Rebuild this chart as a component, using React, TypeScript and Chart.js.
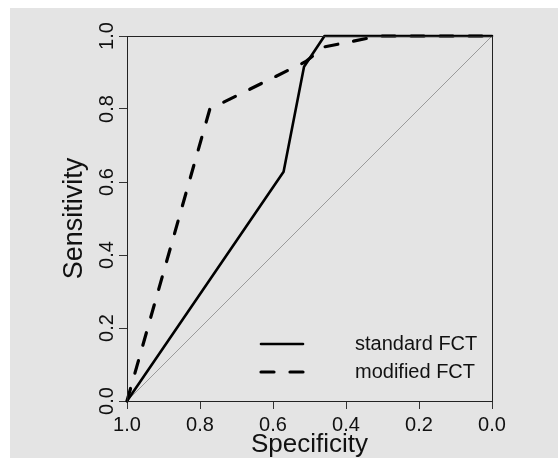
import { useEffect, useRef } from "react";
import { Chart, registerables } from "chart.js";

Chart.register(...registerables);

// ---- data ----
const tickValues = [0, 0.2, 0.4, 0.6, 0.8, 1.0];
const seriesLabels = ["standard FCT", "modified FCT"];
const standardSpec = [1.0, 0.571, 0.515, 0.459, 0.0];
const standardSens = [0.0, 0.628, 0.916, 1.0, 1.0];
const modifiedSpec = [1.0, 0.773, 0.51, 0.46, 0.31, 0.0];
const modifiedSens = [0.0, 0.8, 0.93, 0.97, 1.0, 1.0];
const chanceSpec = [1.0, 0.0];
const chanceSens = [0.0, 1.0];
const xTitle = "Specificity";
const yTitle = "Sensitivity";

const FONT = "'Liberation Sans', Arial, Helvetica, sans-serif";
const fmt = (v: number) => Number(v).toFixed(1);
const pts = (xs: number[], ys: number[]) => xs.map((x, i) => ({ x, y: ys[i] }));

const rocDecor = {
  id: "rocDecor",
  afterDatasetsDraw(chart: any) {
    const { ctx, chartArea: a, scales } = chart;
    ctx.save();
    // box
    ctx.strokeStyle = "#222";
    ctx.lineWidth = 1;
    const l = Math.round(a.left) + 0.5;
    const t = Math.round(a.top) + 0.5;
    const r = Math.round(a.right) + 0.5;
    const b = Math.round(a.bottom) + 0.5;
    ctx.strokeRect(l, t, r - l, b - t);

    // y tick labels, rotated like base R
    const ys = scales.y;
    ctx.fillStyle = "#111";
    ctx.font = `20px ${FONT}`;
    ctx.textAlign = "center";
    ctx.textBaseline = "alphabetic";
    ys.ticks.forEach((tk: any) => {
      const py = ys.getPixelForValue(tk.value);
      ctx.save();
      ctx.translate(a.left - 14, py);
      ctx.rotate(-Math.PI / 2);
      ctx.fillText(fmt(tk.value), 0, 0);
      ctx.restore();
    });

    // legend
    const entries = chart.data.datasets.filter((d: any) => d.label);
    entries.forEach((d: any, i: number) => {
      const yy = a.bottom - 57 + i * 28;
      ctx.save();
      ctx.strokeStyle = d.borderColor;
      ctx.lineWidth = d.borderWidth;
      ctx.lineCap = d.borderCapStyle || "butt";
      ctx.setLineDash(d.borderDash || []);
      ctx.beginPath();
      ctx.moveTo(a.left + 134, yy);
      ctx.lineTo(a.left + 176, yy);
      ctx.stroke();
      ctx.restore();
      ctx.fillStyle = "#111";
      ctx.font = `20px ${FONT}`;
      ctx.textAlign = "left";
      ctx.textBaseline = "middle";
      ctx.fillText(d.label, a.left + 228, yy);
    });
    ctx.restore();
  },
};

export default function App() {
  const ref = useRef<HTMLCanvasElement | null>(null);
  useEffect(() => {
    if (!ref.current) return;
    const setTicks = (s: any) => {
      s.ticks = tickValues.map((v) => ({ value: v }));
    };
    const chart = new Chart(ref.current, {
      type: "scatter",
      data: {
        datasets: [
          {
            label: seriesLabels[0],
            data: pts(standardSpec, standardSens),
            showLine: true,
            borderColor: "#000",
            backgroundColor: "#000",
            borderWidth: 2.6,
            borderJoinStyle: "round",
            borderCapStyle: "round",
            pointRadius: 0,
            tension: 0,
            clip: false,
            order: 1,
          },
          {
            label: seriesLabels[1],
            data: pts(modifiedSpec, modifiedSens),
            showLine: true,
            borderColor: "#000",
            backgroundColor: "#000",
            borderWidth: 3.2,
            borderDash: [13, 16],
            borderJoinStyle: "round",
            borderCapStyle: "round",
            pointRadius: 0,
            tension: 0,
            clip: false,
            order: 2,
          },
          {
            label: "",
            data: pts(chanceSpec, chanceSens),
            showLine: true,
            borderColor: "#9a9a9a",
            borderWidth: 1,
            pointRadius: 0,
            order: 3,
          },
        ],
      } as any,
      options: {
        animation: false,
        responsive: false,
        maintainAspectRatio: false,
        layout: { padding: { left: 0, top: 28, right: 66, bottom: 0 } },
        plugins: { legend: { display: false }, tooltip: { enabled: false } },
        scales: {
          x: {
            type: "linear",
            position: "bottom",
            min: 0,
            max: 1,
            reverse: true,
            afterBuildTicks: setTicks,
            afterFit: (s: any) => {
              s.height = 57;
            },
            grid: { drawOnChartArea: false, drawTicks: true, tickLength: 8, color: "#333", lineWidth: 1 },
            border: { display: true, color: "#222", width: 1 },
            ticks: {
              font: { family: FONT, size: 20, lineHeight: 1.2 },
              color: "#111",
              padding: 4,
              maxRotation: 0,
              autoSkip: false,
              callback: (v: any) => fmt(v),
            },
            title: {
              display: true,
              text: xTitle,
              color: "#111",
              font: { family: FONT, size: 26, lineHeight: 1 },
              padding: { top: 0, bottom: 0 },
            },
          },
          y: {
            type: "linear",
            position: "left",
            min: 0,
            max: 1,
            afterBuildTicks: setTicks,
            afterFit: (s: any) => {
              s.width = 117;
            },
            grid: { drawOnChartArea: false, drawTicks: true, tickLength: 8, color: "#333", lineWidth: 1 },
            border: { display: true, color: "#222", width: 1 },
            ticks: { display: false },
            title: {
              display: true,
              text: yTitle,
              color: "#111",
              font: { family: FONT, size: 27, lineHeight: 1 },
              padding: { top: 51, bottom: 0 },
            },
          },
        },
      } as any,
      plugins: [rocDecor],
    });
    return () => chart.destroy();
  }, []);
  return (
    <div
      style={{
        position: "absolute",
        left: 10,
        top: 8,
        width: 548,
        height: 450,
        background: "#e4e4e4",
      }}
    >
      <canvas ref={ref} width={548} height={450} style={{ display: "block" }} />
    </div>
  );
}
